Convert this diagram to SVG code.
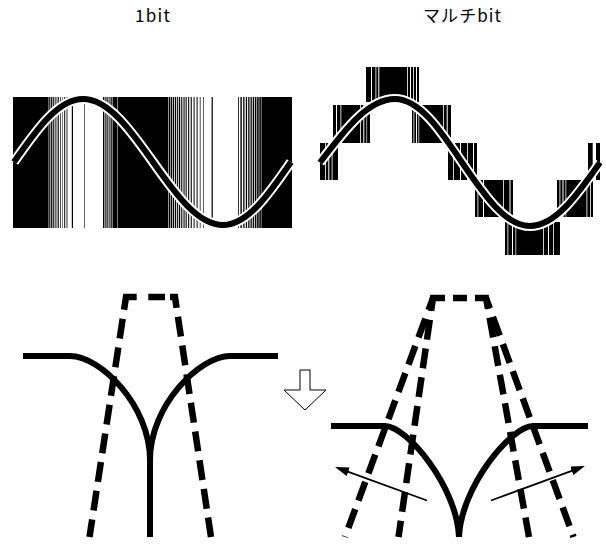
<svg xmlns="http://www.w3.org/2000/svg" width="606" height="544" viewBox="0 0 606 544">
  <defs>
    <style>
      .title { font-family: "Noto Sans CJK JP", "Noto Sans", sans-serif; font-size: 17px; fill: #000; }
      .ink { fill: #000; }
      .gap { fill: #fff; }
      .halo { fill: none; stroke: #fff; stroke-width: 10; }
      .wave { fill: none; stroke: #000; stroke-width: 6; }
      .solid { fill: none; stroke: #000; stroke-width: 6; stroke-linejoin: round; }
      .dash { fill: none; stroke: #000; stroke-width: 6.5; stroke-dasharray: 20 9; stroke-linejoin: miter; }
      .thin { fill: none; stroke: #000; stroke-width: 1.8; }
      .hollow { fill: #fff; stroke: #000; stroke-width: 1; }
    </style>
    <marker id="head" viewBox="0 0 14 9" refX="10" refY="4.5" markerWidth="14" markerHeight="9" markerUnits="userSpaceOnUse" orient="auto">
      <path d="M0,0 L14,4.5 L0,9 Z" fill="#000"/>
    </marker>
  </defs>

  <rect width="606" height="544" fill="#fff"/>

  <!-- headings -->
  <g id="title-1bit">
    <text class="title" x="135" y="22" textLength="35" lengthAdjust="spacing">1bit</text>
  </g>
  <g id="title-multibit">
    <text class="title" x="423" y="22" textLength="78" lengthAdjust="spacing">マルチbit</text>
  </g>

  <!-- 1-bit pulse-density stream under the sine -->
  <g id="wave-1bit">
    <rect class="ink" x="13" y="97" width="279" height="131"/>
    <g class="gap">
      <rect x="48.6" y="97" width="0.6" height="131"/>
      <rect x="50.4" y="97" width="0.7" height="131"/>
      <rect x="52.2" y="97" width="0.6" height="131"/>
      <rect x="53.8" y="97" width="0.9" height="131"/>
      <rect x="55.6" y="97" width="1.0" height="131"/>
      <rect x="57.4" y="97" width="0.8" height="131"/>
      <rect x="59.0" y="97" width="1.3" height="131"/>
      <rect x="61.0" y="97" width="1.0" height="131"/>
      <rect x="62.5" y="97" width="40.5" height="131"/>
      <rect x="104.4" y="97" width="0.9" height="131"/>
      <rect x="106.5" y="97" width="0.8" height="131"/>
      <rect x="108.4" y="97" width="1.0" height="131"/>
      <rect x="110.5" y="97" width="0.7" height="131"/>
      <rect x="112.4" y="97" width="0.5" height="131"/>
      <rect x="117.2" y="97" width="0.5" height="131"/>
      <rect x="168.3" y="97" width="0.6" height="131"/>
      <rect x="170.3" y="97" width="0.6" height="131"/>
      <rect x="172.2" y="97" width="0.7" height="131"/>
      <rect x="174.2" y="97" width="0.8" height="131"/>
      <rect x="176.2" y="97" width="0.9" height="131"/>
      <rect x="178.2" y="97" width="0.8" height="131"/>
      <rect x="180.2" y="97" width="1.0" height="131"/>
      <rect x="182.3" y="97" width="1.2" height="131"/>
      <rect x="184.6" y="97" width="1.0" height="131"/>
      <rect x="186.7" y="97" width="1.4" height="131"/>
      <rect x="189.2" y="97" width="1.5" height="131"/>
      <rect x="191.8" y="97" width="1.8" height="131"/>
      <rect x="194.6" y="97" width="2.0" height="131"/>
      <rect x="197.6" y="97" width="2.2" height="131"/>
      <rect x="200.5" y="97" width="37.5" height="131"/>
      <rect x="238.8" y="97" width="1.6" height="131"/>
      <rect x="241.8" y="97" width="1.4" height="131"/>
      <rect x="244.5" y="97" width="1.3" height="131"/>
      <rect x="247.1" y="97" width="1.1" height="131"/>
      <rect x="249.5" y="97" width="1.0" height="131"/>
      <rect x="251.8" y="97" width="0.9" height="131"/>
      <rect x="254.1" y="97" width="0.8" height="131"/>
      <rect x="256.4" y="97" width="0.7" height="131"/>
      <rect x="258.7" y="97" width="0.6" height="131"/>
      <rect x="260.9" y="97" width="0.5" height="131"/>
    </g>
    <g class="ink">
      <rect x="64.2" y="97" width="1.0" height="131"/>
      <rect x="66.6" y="97" width="0.8" height="131"/>
      <rect x="71.8" y="97" width="1.2" height="131"/>
      <rect x="84.0" y="97" width="0.6" height="131"/>
      <rect x="203.4" y="97" width="0.6" height="131"/>
      <rect x="211.6" y="97" width="1.2" height="131"/>
    </g>
    <path class="halo" d="M14 162 C36.5 129.7 58 99 83 99 C108.3 99 130.2 129.7 153 162 C175.8 194.3 197.7 225 223 225 C247.6 225 268.8 194.3 291 162"/>
    <path class="wave" d="M14 162 C36.5 129.7 58 99 83 99 C108.3 99 130.2 129.7 153 162 C175.8 194.3 197.7 225 223 225 C247.6 225 268.8 194.3 291 162"/>
  </g>

  <!-- multi-bit staircase under the sine -->
  <g id="wave-multibit">
    <g class="ink">
      <rect x="320" y="143" width="18" height="37"/>
      <rect x="333" y="105" width="37" height="38"/>
      <rect x="366" y="67" width="53" height="35"/>
      <rect x="412" y="105" width="39" height="38"/>
      <rect x="448" y="143" width="29" height="37"/>
      <rect x="475" y="180" width="38" height="37"/>
      <rect x="505" y="222" width="55" height="33"/>
      <rect x="557" y="180" width="36" height="37"/>
      <rect x="588" y="143" width="12" height="37"/>
    </g>
    <g class="gap">
      <rect x="371" y="67" width="1" height="35"/>
      <rect x="375.5" y="67" width="0.8" height="35"/>
      <rect x="378.3" y="67" width="1" height="35"/>
      <rect x="407" y="67" width="0.8" height="35"/>
      <rect x="410" y="67" width="1" height="35"/>
      <rect x="413" y="67" width="0.8" height="35"/>
      <rect x="416" y="67" width="1" height="35"/>
      <rect x="336" y="105" width="1" height="38"/>
      <rect x="340.5" y="105" width="0.8" height="38"/>
      <rect x="360" y="105" width="0.8" height="38"/>
      <rect x="363.3" y="105" width="1" height="38"/>
      <rect x="366.5" y="105" width="0.6" height="38"/>
      <rect x="325" y="143" width="0.8" height="37"/>
      <rect x="328.3" y="143" width="1" height="37"/>
      <rect x="331.7" y="143" width="0.8" height="37"/>
      <rect x="413.5" y="105" width="0.8" height="38"/>
      <rect x="416" y="105" width="1" height="38"/>
      <rect x="418.5" y="105" width="0.7" height="38"/>
      <rect x="443" y="105" width="0.8" height="38"/>
      <rect x="446.7" y="105" width="1" height="38"/>
      <rect x="453" y="143" width="0.8" height="37"/>
      <rect x="460" y="143" width="1" height="37"/>
      <rect x="467" y="143" width="0.8" height="37"/>
      <rect x="473" y="143" width="1" height="37"/>
      <rect x="477.5" y="180" width="0.8" height="37"/>
      <rect x="483" y="180" width="1" height="37"/>
      <rect x="503" y="180" width="0.8" height="37"/>
      <rect x="509.5" y="180" width="1" height="37"/>
      <rect x="507.5" y="222" width="0.8" height="33"/>
      <rect x="512" y="222" width="1" height="33"/>
      <rect x="515.5" y="222" width="0.7" height="33"/>
      <rect x="543" y="222" width="0.8" height="33"/>
      <rect x="548" y="222" width="1" height="33"/>
      <rect x="553" y="222" width="0.8" height="33"/>
      <rect x="559.5" y="180" width="0.8" height="37"/>
      <rect x="562.5" y="180" width="1" height="37"/>
      <rect x="565.5" y="180" width="0.7" height="37"/>
      <rect x="586.5" y="180" width="0.8" height="37"/>
      <rect x="590" y="180" width="0.8" height="37"/>
      <rect x="592.7" y="143" width="3.3" height="37"/>
    </g>
    <path class="halo" d="M320 162.5 C344.5 130 367.9 99 395 99 C419.3 99 440.2 130 462 162.5 C484.2 195 505.4 226 530 226 C555.3 226 577.2 195 600 162.5"/>
    <path class="wave" d="M320 162.5 C344.5 130 367.9 99 395 99 C419.3 99 440.2 130 462 162.5 C484.2 195 505.4 226 530 226 C555.3 226 577.2 195 600 162.5"/>
  </g>

  <!-- noise-shaping response, single bit -->
  <g id="response-1bit">
    <path class="dash" style="stroke-dasharray:23.7 11.6 16.7 5 16" d="M124.05 309.85 L126 297 L175 297 L176.6 307.9"/>
    <path class="dash" style="stroke-dashoffset:20" d="M124.05 309.85 L89.5 537"/>
    <path class="dash" style="stroke-dashoffset:20" d="M176.6 307.9 L211 537"/>
    <path class="solid" d="M23 356 H70 C100 356 150 405 150 460 V537"/>
    <path class="solid" d="M278 356 H230 C200 356 150 405 150 460"/>
  </g>

  <!-- noise-shaping response, multi bit -->
  <g id="response-multibit">
    <path class="dash" style="stroke-dasharray:25 8 14 8 22" d="M431.1 310.9 L433 298 L486 298 L488 308.8"/>
    <path class="dash" style="stroke-dashoffset:20" d="M431.1 310.9 L398.5 537"/>
    <path class="dash" style="stroke-dashoffset:20" d="M488 308.8 L529 537"/>
    <path class="dash" style="stroke-dashoffset:7" d="M433 298 L345 537"/>
    <path class="dash" style="stroke-dashoffset:9" d="M486 298 L573.5 537"/>
    <path class="solid" d="M331 426 H385 C407 426 457 487 459 537"/>
    <path class="solid" d="M588 426 H533 C511 426 461 487 459 537"/>
  </g>

  <g id="connectors">
    <polygon class="hollow" points="300,370 310,370 310,390 326,390 305,410 284,390 300,390"/>
    <path class="thin" marker-end="url(#head)" d="M427 500.5 L338.8 468.4"/>
    <path class="thin" marker-end="url(#head)" d="M491 500.5 L581.2 467.4"/>
  </g>
</svg>
